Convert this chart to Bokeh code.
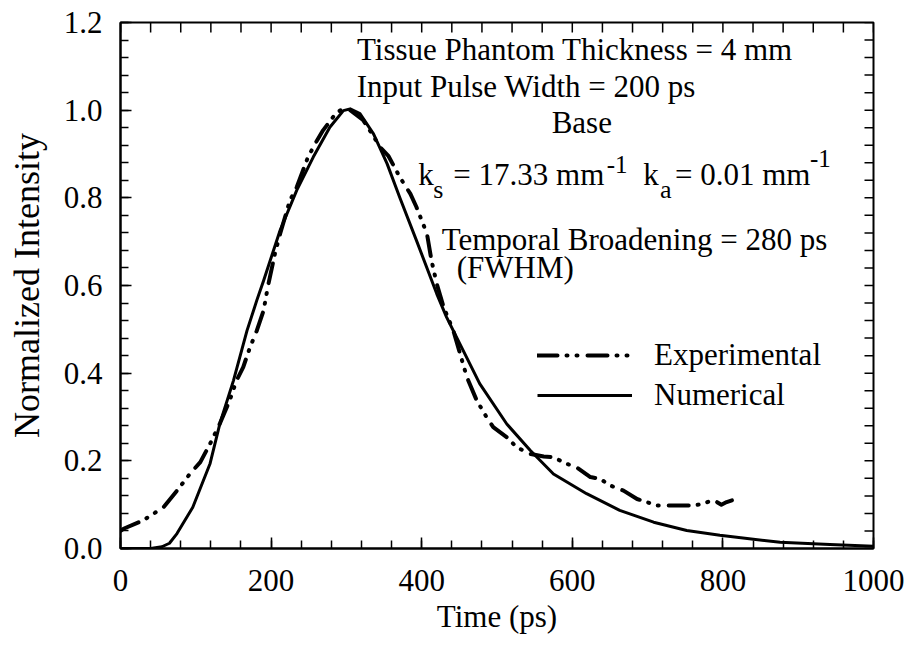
import math
from bokeh.plotting import figure
from bokeh.models import Range1d, FixedTicker, Label, Legend, LegendItem, NumeralTickFormatter
from bokeh.embed import file_html
from bokeh.resources import INLINE

# ---------------- data ----------------
time_num = [0, 40, 55, 65, 75, 96, 119, 132, 150, 168, 181, 190, 212, 234, 256, 278, 296,
            305, 318, 336, 354, 371, 393, 420, 433, 455, 477, 513, 544, 575, 619, 663, 708,
            752, 796, 876, 942, 1000]
int_num = [0.0, 0.0, 0.004, 0.012, 0.034, 0.094, 0.194, 0.285, 0.383, 0.497, 0.566, 0.611,
           0.726, 0.817, 0.893, 0.961, 0.999, 1.003, 0.992, 0.946, 0.878, 0.800, 0.703, 0.581,
           0.528, 0.452, 0.376, 0.284, 0.224, 0.170, 0.125, 0.087, 0.060, 0.041, 0.030, 0.014,
           0.009, 0.005]

time_exp = [0, 4, 30, 57, 75, 92, 106, 119, 132, 145, 154, 163, 172, 181, 190, 196, 205, 212,
            225, 234, 249, 261, 269, 287, 295, 305, 322, 331, 345, 356, 371, 385, 393, 407,
            413, 420, 429, 442, 451, 460, 473, 486, 495, 513, 526, 544, 562, 575, 593, 606,
            624, 637, 650, 668, 686, 699, 712, 730, 747, 761, 774, 787, 798, 805, 812]
int_exp = [0.040, 0.045, 0.064, 0.094, 0.132, 0.170, 0.197, 0.239, 0.285, 0.338, 0.383, 0.414,
           0.459, 0.497, 0.543, 0.600, 0.672, 0.718, 0.794, 0.824, 0.893, 0.931, 0.954, 0.995,
           1.002, 1.000, 0.978, 0.954, 0.915, 0.895, 0.847, 0.809, 0.779, 0.718, 0.657, 0.604,
           0.551, 0.497, 0.444, 0.391, 0.338, 0.300, 0.277, 0.254, 0.231, 0.216, 0.210, 0.208,
           0.193, 0.185, 0.163, 0.159, 0.144, 0.132, 0.113, 0.106, 0.098, 0.098, 0.098, 0.098,
           0.102, 0.111, 0.100, 0.106, 0.110]

x_major = [0, 200, 400, 600, 800, 1000]
x_minor = [0, 40, 80, 120, 160, 200, 240, 280, 320, 360, 400, 440, 480, 520, 560, 600, 640,
           680, 720, 760, 800, 840, 880, 920, 960, 1000]
y_major = [0.0, 0.2, 0.4, 0.6, 0.8, 1.0, 1.2]
y_minor = [0.0, 0.04, 0.08, 0.12, 0.16, 0.2, 0.24, 0.28, 0.32, 0.36, 0.4, 0.44, 0.48, 0.52,
           0.56, 0.6, 0.64, 0.68, 0.72, 0.76, 0.8, 0.84, 0.88, 0.92, 0.96, 1.0, 1.04, 1.08,
           1.12, 1.16, 1.2]

x_title = "Time (ps)"
y_title = "Normalized Intensity"
series_names = ["Experimental", "Numerical"]

# annotation texts: (text, x, y, font size)
annotations = [
    ("Tissue Phantom Thickness = 4 mm", 314.1, 1.138, 31),
    ("Input Pulse Width = 200 ps", 313.7, 1.055, 31),
    ("Base", 572.6, 0.971, 31),
    ("k", 395.5, 0.853, 31),
    ("s", 415.4, 0.819, 26),
    ("= 17.33 mm", 442.0, 0.853, 31),
    ("-1", 645.7, 0.877, 25),
    ("k", 694.3, 0.853, 31),
    ("a", 716.5, 0.819, 26),
    ("= 0.01 mm", 736.4, 0.853, 31),
    ("-1", 915.7, 0.890, 25),
    ("Temporal Broadening = 280 ps", 426.6, 0.705, 31),
    ("(FWHM)", 446.5, 0.641, 31),
]

FONT = "Liberation Serif"

p = figure(frame_width=753, frame_height=526, output_backend="svg", toolbar_location=None,
           x_range=Range1d(0, 1000), y_range=Range1d(0, 1.2),
           min_border_left=120, min_border_right=37, min_border_top=22, min_border_bottom=113)
p.outline_line_color = "black"
p.outline_line_width = 2
p.xgrid.visible = False
p.ygrid.visible = False
p.background_fill_color = "white"
p.border_fill_color = "white"

# ticks on the top and right frame edges, pointing inwards
p.ray(x=x_minor, y=[y_major[-1]] * len(x_minor), length=10, length_units="screen",
      angle=-math.pi / 2, line_color="black", line_width=1.5)
p.ray(x=[x_major[-1]] * len(y_minor), y=y_minor, length=9, length_units="screen",
      angle=math.pi, line_color="black", line_width=1.5)

r_exp = p.line(time_exp, int_exp, line_color="black", line_width=4,
               line_dash="20 9 1 9 1 10", line_cap="round", line_join="round")
r_num = p.line(time_num, int_num, line_color="black", line_width=3, line_join="round")


def style_axis(ax):
    ax.axis_line_width = 2
    ax.axis_line_color = "black"
    ax.major_tick_in = 11
    ax.major_tick_out = 0
    ax.minor_tick_in = 8
    ax.minor_tick_out = 0
    ax.major_tick_line_width = 1.5
    ax.minor_tick_line_width = 1.5
    ax.major_tick_line_color = "black"
    ax.minor_tick_line_color = "black"
    ax.major_label_text_font = FONT
    ax.major_label_text_font_size = "31px"
    ax.major_label_text_color = "black"
    ax.axis_label_text_font = FONT
    ax.axis_label_text_font_size = "31px"
    ax.axis_label_text_font_style = "normal"
    ax.axis_label_text_color = "black"


xb = p.xaxis[0]
yl = p.yaxis[0]
xb.ticker = FixedTicker(ticks=x_major, minor_ticks=x_minor)
yl.ticker = FixedTicker(ticks=y_major, minor_ticks=y_minor)
yl.formatter = NumeralTickFormatter(format="0.0")
style_axis(xb)
style_axis(yl)
xb.axis_label = x_title
yl.axis_label = y_title
yl.axis_label_text_font_size = "36px"
xb.major_label_standoff = 21
yl.major_label_standoff = 18
xb.axis_label_standoff = 5
yl.axis_label_standoff = 14

legend = Legend(items=[LegendItem(label=series_names[0], renderers=[r_exp]),
                       LegendItem(label=series_names[1], renderers=[r_num])],
                location=(417, 133), orientation="vertical",
                glyph_width=95, glyph_height=40, label_height=40, label_standoff=22,
                spacing=0, padding=0, margin=0,
                label_text_font=FONT, label_text_font_size="31px", label_text_color="black",
                border_line_color=None, background_fill_alpha=0)
p.add_layout(legend)

for txt, x, y, fs in annotations:
    p.add_layout(Label(x=x, y=y, text=txt, text_font=FONT, text_font_size=f"{fs}px",
                       text_color="black", text_align="left", text_baseline="alphabetic"))

open("out.html", "w").write(file_html(p, INLINE))
